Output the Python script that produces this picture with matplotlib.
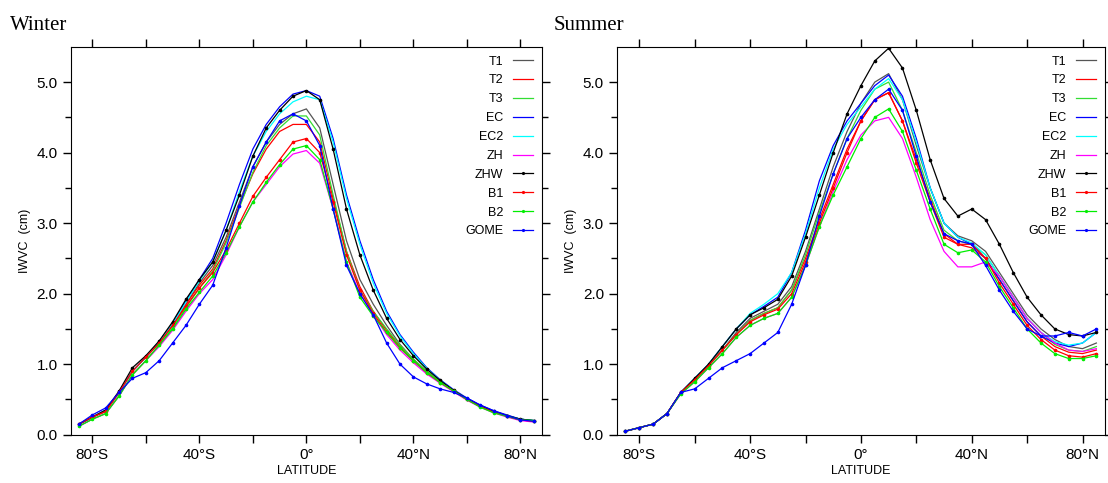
import matplotlib.pyplot as plt
import numpy as np

lat = list(range(-85, 90, 5))  # 35 points

names = ['T1', 'T2', 'T3', 'EC', 'EC2', 'ZH', 'ZHW', 'B1', 'B2', 'GOME']
colors = ['#555555', 'red', '#33dd33', 'blue', 'cyan', 'magenta', 'black', 'red', '#00ee00', 'blue']
dotted = [False, False, False, False, False, False, True, True, True, True]

winter = {
    'T1':  [0.15, 0.25, 0.33, 0.6, 0.9, 1.1, 1.3, 1.55, 1.85, 2.15, 2.4, 2.8, 3.3, 3.8, 4.15, 4.4, 4.55, 4.62, 4.35, 3.55, 2.75, 2.2, 1.85, 1.55, 1.28, 1.07, 0.9, 0.75, 0.62, 0.5, 0.4, 0.33, 0.27, 0.22, 0.2],
    'T2':  [0.15, 0.25, 0.33, 0.6, 0.9, 1.1, 1.3, 1.55, 1.85, 2.12, 2.35, 2.75, 3.25, 3.7, 4.05, 4.3, 4.4, 4.4, 4.15, 3.35, 2.6, 2.1, 1.75, 1.48, 1.25, 1.05, 0.88, 0.74, 0.62, 0.5, 0.4, 0.32, 0.26, 0.21, 0.19],
    'T3':  [0.12, 0.22, 0.3, 0.55, 0.85, 1.05, 1.27, 1.52, 1.8, 2.08, 2.32, 2.72, 3.22, 3.72, 4.1, 4.35, 4.52, 4.52, 4.25, 3.4, 2.6, 2.05, 1.75, 1.5, 1.27, 1.07, 0.9, 0.75, 0.62, 0.5, 0.4, 0.32, 0.27, 0.22, 0.2],
    'EC':  [0.15, 0.25, 0.35, 0.6, 0.9, 1.1, 1.32, 1.58, 1.9, 2.2, 2.5, 3.0, 3.55, 4.05, 4.4, 4.65, 4.83, 4.88, 4.8, 4.2, 3.4, 2.75, 2.2, 1.75, 1.42, 1.17, 0.95, 0.78, 0.64, 0.52, 0.42, 0.34, 0.28, 0.22, 0.2],
    'EC2': [0.15, 0.25, 0.35, 0.6, 0.9, 1.1, 1.32, 1.57, 1.88, 2.18, 2.45, 2.9, 3.45, 3.95, 4.3, 4.55, 4.72, 4.8, 4.75, 4.15, 3.35, 2.7, 2.15, 1.72, 1.4, 1.15, 0.94, 0.77, 0.63, 0.51, 0.41, 0.33, 0.27, 0.22, 0.2],
    'ZH':  [0.12, 0.22, 0.3, 0.55, 0.85, 1.05, 1.25, 1.48, 1.75, 2.0, 2.2, 2.55, 2.95, 3.3, 3.55, 3.8, 3.98, 4.03, 3.85, 3.2, 2.45, 2.0, 1.7, 1.42, 1.2, 1.02, 0.86, 0.73, 0.61, 0.49, 0.39, 0.31, 0.25, 0.2, 0.18],
    'ZHW': [0.15, 0.25, 0.35, 0.62, 0.95, 1.12, 1.33, 1.6, 1.92, 2.2, 2.45, 2.9, 3.4, 3.95, 4.35, 4.6, 4.8, 4.88, 4.75, 4.05, 3.2, 2.55, 2.05, 1.65, 1.35, 1.12, 0.93, 0.77, 0.63, 0.51, 0.41, 0.33, 0.27, 0.22, 0.2],
    'B1':  [0.15, 0.25, 0.33, 0.6, 0.9, 1.1, 1.3, 1.55, 1.82, 2.08, 2.3, 2.62, 3.0, 3.38, 3.65, 3.9, 4.15, 4.2, 4.0, 3.3, 2.55, 2.05, 1.72, 1.45, 1.23, 1.05, 0.88, 0.74, 0.62, 0.5, 0.4, 0.32, 0.26, 0.21, 0.19],
    'B2':  [0.12, 0.22, 0.3, 0.55, 0.85, 1.05, 1.27, 1.5, 1.78, 2.02, 2.25, 2.58, 2.95, 3.3, 3.58, 3.83, 4.05, 4.1, 3.9, 3.2, 2.45, 1.95, 1.68, 1.45, 1.23, 1.05, 0.88, 0.74, 0.62, 0.5, 0.39, 0.31, 0.26, 0.21, 0.2],
    'GOME': [0.15, 0.28, 0.38, 0.6, 0.8, 0.88, 1.05, 1.3, 1.55, 1.85, 2.12, 2.65, 3.25, 3.8, 4.15, 4.45, 4.55, 4.45, 4.1, 3.2, 2.4, 2.0, 1.7, 1.3, 1.0, 0.82, 0.72, 0.65, 0.6, 0.52, 0.42, 0.34, 0.27, 0.21, 0.19],
}

summer = {
    'T1':  [0.05, 0.1, 0.15, 0.3, 0.6, 0.78, 0.98, 1.2, 1.45, 1.65, 1.75, 1.85, 2.1, 2.6, 3.2, 3.8, 4.3, 4.7, 5.0, 5.12, 4.75, 4.1, 3.5, 3.0, 2.82, 2.75, 2.6, 2.3, 2.0, 1.7, 1.5, 1.35, 1.25, 1.22, 1.3],
    'T2':  [0.05, 0.1, 0.15, 0.3, 0.6, 0.78, 0.98, 1.2, 1.42, 1.62, 1.72, 1.8, 2.05, 2.5, 3.05, 3.55, 4.05, 4.45, 4.75, 4.85, 4.45, 3.9, 3.35, 2.85, 2.7, 2.65, 2.5, 2.2, 1.9, 1.6, 1.4, 1.25, 1.17, 1.15, 1.2],
    'T3':  [0.05, 0.1, 0.15, 0.3, 0.6, 0.78, 0.98, 1.2, 1.42, 1.62, 1.72, 1.8, 2.05, 2.55, 3.15, 3.7, 4.2, 4.6, 4.9, 5.0, 4.6, 4.0, 3.4, 2.9, 2.75, 2.7, 2.55, 2.25, 1.95, 1.65, 1.45, 1.28, 1.2, 1.18, 1.25],
    'EC':  [0.05, 0.1, 0.15, 0.3, 0.6, 0.8, 1.0, 1.25, 1.5, 1.7, 1.82, 1.95, 2.3, 2.9, 3.6, 4.1, 4.45, 4.7, 4.95, 5.1, 4.8, 4.2, 3.5, 3.0, 2.8, 2.7, 2.5, 2.2, 1.9, 1.6, 1.4, 1.3, 1.25, 1.3, 1.45],
    'EC2': [0.05, 0.1, 0.15, 0.3, 0.6, 0.8, 1.0, 1.25, 1.5, 1.72, 1.85, 2.0, 2.3, 2.85, 3.5, 4.05, 4.4, 4.65, 4.9, 5.05, 4.75, 4.15, 3.5, 3.0, 2.8, 2.72, 2.55, 2.25, 1.95, 1.65, 1.45, 1.32, 1.27, 1.3, 1.45],
    'ZH':  [0.05, 0.1, 0.15, 0.3, 0.58, 0.75, 0.95, 1.15, 1.38, 1.55, 1.65, 1.72, 1.95, 2.4, 2.95, 3.45, 3.9, 4.25, 4.45, 4.5, 4.2, 3.65, 3.05, 2.6, 2.38, 2.38, 2.45, 2.25, 1.95, 1.65, 1.45, 1.3, 1.2, 1.18, 1.22],
    'ZHW': [0.05, 0.1, 0.15, 0.3, 0.6, 0.8, 1.0, 1.25, 1.5, 1.7, 1.8, 1.92, 2.25, 2.8, 3.4, 4.0, 4.55, 4.95, 5.3, 5.48, 5.2, 4.6, 3.9, 3.35, 3.1, 3.2, 3.05, 2.7, 2.3, 1.95, 1.7, 1.5, 1.42, 1.4, 1.45],
    'B1':  [0.05, 0.1, 0.15, 0.3, 0.6, 0.78, 0.98, 1.2, 1.42, 1.6, 1.7, 1.78, 2.0, 2.45, 3.0, 3.5, 4.0, 4.45, 4.75, 4.85, 4.45, 3.85, 3.3, 2.8, 2.7, 2.7, 2.5, 2.15, 1.85, 1.55, 1.35, 1.2, 1.12, 1.1, 1.15],
    'B2':  [0.05, 0.1, 0.15, 0.3, 0.58, 0.75, 0.95, 1.15, 1.38, 1.55, 1.65, 1.72, 1.95, 2.4, 2.95, 3.4, 3.8, 4.2, 4.5, 4.62, 4.3, 3.75, 3.2, 2.7, 2.58, 2.62, 2.45, 2.1, 1.8, 1.5, 1.3, 1.15, 1.08, 1.08, 1.12],
    'GOME': [0.05, 0.1, 0.15, 0.3, 0.6, 0.65, 0.8, 0.95, 1.05, 1.15, 1.3, 1.45, 1.85, 2.4, 3.1, 3.7, 4.2, 4.5, 4.75, 4.9, 4.6, 3.95, 3.3, 2.85, 2.75, 2.7, 2.4, 2.05, 1.75, 1.5, 1.4, 1.4, 1.45, 1.4, 1.5],
}

plt.rcParams['font.family'] = ['Liberation Sans', 'DejaVu Sans']

fig = plt.figure(figsize=(11.08, 4.83), dpi=100)
panels = [('Winter', winter, [0.064, 0.10, 0.425, 0.803]),
          ('Summer', summer, [0.557, 0.10, 0.44, 0.803])]

for title, data, rect in panels:
    ax = fig.add_axes(rect)
    for name, c, d in zip(names, colors, dotted):
        if d:
            ax.plot(lat, data[name], color=c, lw=0.9, marker='o', ms=1.6, label=name)
        else:
            ax.plot(lat, data[name], color=c, lw=0.9, label=name)
    ax.set_xlim(-88, 88)
    ax.set_ylim(0, 5.5)
    ax.set_xticks([-80, -60, -40, -20, 0, 20, 40, 60, 80])
    ax.set_xticklabels(['80°S', '', '40°S', '', '0°', '', '40°N', '', '80°N'], fontsize=11)
    ax.set_yticks([0, 1, 2, 3, 4, 5])
    ax.set_yticklabels(['0.0', '1.0', '2.0', '3.0', '4.0', '5.0'], fontsize=11)
    ax.set_yticks(np.arange(0.5, 5.5, 1.0), minor=True)
    ax.tick_params(which='both', direction='out', top=True, right=True, length=6, width=1)
    ax.tick_params(which='minor', length=4)
    ax.set_xlabel('LATITUDE', fontsize=9, labelpad=2)
    ax.set_ylabel('IWVC  (cm)', fontsize=9)
    ax.text(-0.13, 1.03, title, transform=ax.transAxes, fontsize=15,
            family='Liberation Serif', va='bottom')
    ax.legend(loc='upper right', frameon=False, markerfirst=False, fontsize=9,
              handlelength=1.6, labelspacing=0.55, borderaxespad=0.3, markerscale=0.8)

fig.savefig('out.png', dpi=100)
